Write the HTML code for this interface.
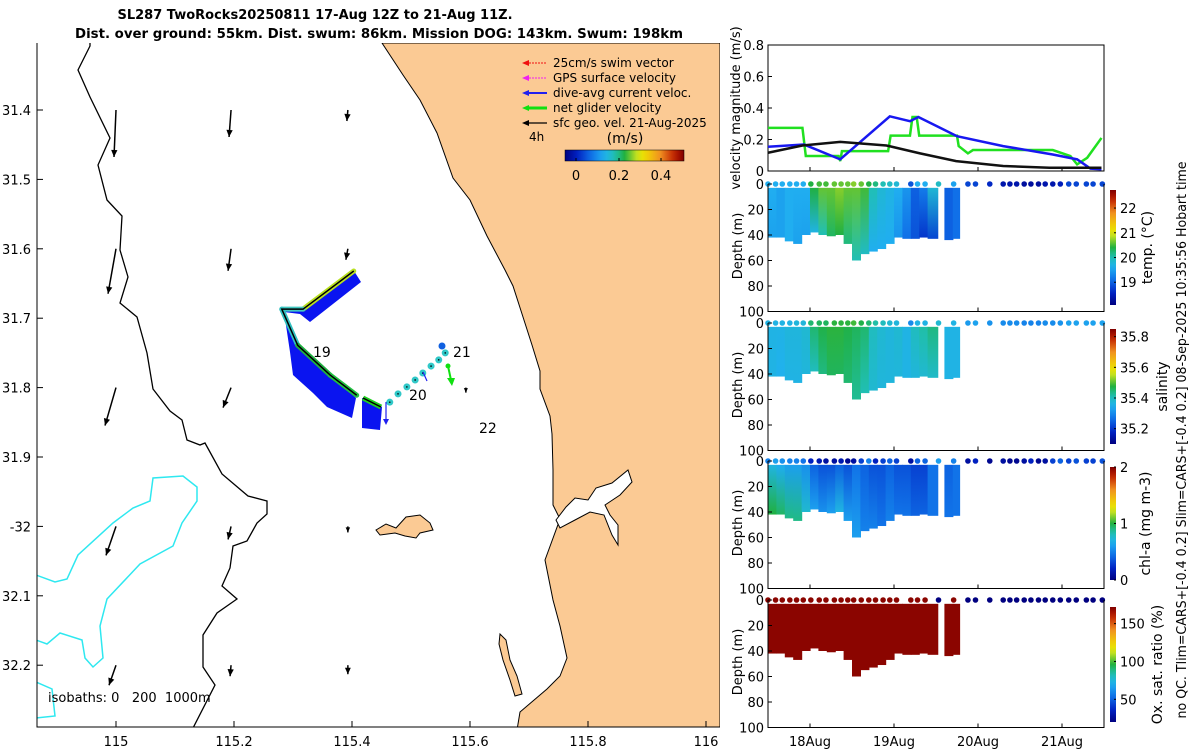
<!DOCTYPE html>
<html><head><meta charset="utf-8"><style>
html,body{margin:0;padding:0;background:#fff}
svg{display:block;font-family:"DejaVu Sans","Liberation Sans",sans-serif}
</style></head><body>
<svg id="fig" width="1200" height="750" viewBox="0 0 1200 750">
<rect width="1200" height="750" fill="#fff"/>
<text x="315" y="19" text-anchor="middle" font-weight="bold" font-size="13">SL287 TwoRocks20250811 17-Aug 12Z to 21-Aug 11Z.</text>
<text x="379" y="38" text-anchor="middle" font-weight="bold" font-size="13" textLength="608" lengthAdjust="spacingAndGlyphs">Dist. over ground: 55km. Dist. swum: 86km. Mission DOG: 143km. Swum: 198km</text>
<g id="map"></g>
<g id="vel"></g>
<g id="sec"></g>
<text transform="translate(1186,440) rotate(-90)" text-anchor="middle" font-size="13" textLength="557" lengthAdjust="spacingAndGlyphs">no QC. Tlim=CARS+[-0.4 0.2] Slim=CARS+[-0.4 0.2] 08-Sep-2025 10:35:56 Hobart time</text>
</svg>
<script>
// ---------- data ----------
const lonTicks=[115,115.2,115.4,115.6,115.8,116];
const lonTickLabels=["115","115.2","115.4","115.6","115.8","116"];
const latTicks=[31.4,31.5,31.6,31.7,31.8,31.9,32.0,32.1,32.2];
const latTickLabels=["31.4","31.5","31.6","31.7","31.8","31.9","-32","32.1","32.2"];
const trackLon=[115.403,115.317,115.281,115.308,115.363,115.408];
const trackLat=[31.632,31.687,31.687,31.739,31.782,31.811];
const dotLon=[115.464,115.478,115.493,115.507,115.520,115.534,115.547,115.558];
const dotLat=[31.821,31.809,31.799,31.789,31.779,31.769,31.760,31.750];
const geoLon=[115.0,115.0,115.0,115.0,115.0,115.195,115.195,115.195,115.195,115.195,115.393,115.393,115.393,115.393,115.593];
const geoLat=[31.4,31.6,31.8,32.0,32.2,31.4,31.6,31.8,32.0,32.2,31.4,31.6,32.0,32.2,31.8];
const geoU=[-0.02,-0.08,-0.11,-0.10,-0.07,-0.02,-0.03,-0.08,-0.03,-0.01,-0.01,-0.02,0,0,0];
const geoV=[-0.47,-0.45,-0.38,-0.29,-0.20,-0.27,-0.22,-0.20,-0.13,-0.11,-0.11,-0.11,-0.06,-0.09,-0.05];
const dayTicks=[18,19,20,21];
const dayLabels=["18Aug","19Aug","20Aug","21Aug"];
const velTicks=[0,0.2,0.4,0.6,0.8];
const velTickLabels=["0","0.2","0.4","0.6","0.8"];
const greenT=[17.5,17.91,17.95,18.34,18.36,18.38,18.93,18.96,19.19,19.22,19.27,19.30,19.75,19.77,19.88,19.94,20.89,21.10,21.18,21.30,21.47];
const greenV=[0.274,0.274,0.095,0.095,0.063,0.126,0.126,0.225,0.225,0.343,0.343,0.225,0.225,0.158,0.112,0.133,0.133,0.095,0.042,0.084,0.21];
const blueT=[17.5,17.93,18.36,18.95,19.19,19.29,19.75,20.30,20.89,21.18,21.34,21.47];
const blueV=[0.154,0.168,0.074,0.347,0.316,0.343,0.221,0.158,0.105,0.074,0.015,0.011];
const blackT=[17.5,17.91,18.36,18.91,19.31,19.74,20.30,20.85,21.47];
const blackV=[0.116,0.162,0.185,0.162,0.112,0.063,0.032,0.021,0.021];
const depthTicks=[0,20,40,60,80,100];
const profStart=[17.5,17.6,17.7,17.8,17.9,18.0,18.1,18.2,18.3,18.4,18.5,18.6,18.7,18.8,18.9,19.0,19.1,19.2,19.3,19.4,19.6,19.7];
const profEnd=[17.6,17.7,17.8,17.9,18.0,18.1,18.2,18.3,18.4,18.5,18.6,18.7,18.8,18.9,19.0,19.1,19.2,19.3,19.4,19.52,19.7,19.78];
const profDepth=[42,42,45,47,40,38,40,41,40,47,60,55,53,51,47,42,43,43,42,43,44,43];
const tempSurf=[19.6,19.5,19.6,19.6,19.6,20.4,20.6,20.6,20.7,20.6,20.6,20.5,20.0,19.8,19.7,19.6,19.4,19.0,19.2,19.8,19.0,19.1];
const tempDeep=[19.5,19.5,19.6,19.5,19.5,19.7,20.0,20.3,20.4,20.2,20.0,19.9,19.6,19.6,19.6,19.4,19.1,18.9,18.7,18.8,19.0,19.1];
const salSurf=[35.36,35.36,35.37,35.37,35.38,35.45,35.47,35.48,35.48,35.47,35.46,35.45,35.40,35.38,35.37,35.38,35.36,35.40,35.42,35.44,35.36,35.36];
const salDeep=[35.36,35.35,35.36,35.36,35.37,35.40,35.44,35.46,35.46,35.45,35.43,35.41,35.38,35.37,35.37,35.37,35.36,35.37,35.38,35.39,35.36,35.36];
const chlSurf=[0.7,0.65,0.6,0.6,0.55,0.4,0.35,0.35,0.4,0.35,0.45,0.4,0.35,0.35,0.4,0.35,0.35,0.3,0.3,0.45,0.4,0.45];
const chlDeep=[1.0,0.95,0.9,0.9,0.75,0.6,0.55,0.6,0.7,0.6,0.6,0.5,0.5,0.45,0.5,0.45,0.45,0.4,0.4,0.45,0.45,0.45];
const oxSurf=[170,170,170,170,170,170,170,170,170,170,170,170,170,170,170,170,170,170,170,170,170,170];
const oxDeep=[170,170,170,170,170,170,170,170,170,170,170,170,170,170,170,170,170,170,170,170,170,170];
const sfcT=[17.5,17.59,17.67,17.76,17.84,17.92,18.01,18.11,18.19,18.29,18.37,18.45,18.52,18.61,18.70,18.78,18.87,18.95,19.03,19.20,19.28,19.37,19.53,19.71,19.88,19.97,20.14,20.30,20.38,20.46,20.55,20.63,20.72,20.80,20.89,20.98,21.08,21.17,21.29,21.37,21.48];
const sfcTemp=[19.6,19.6,19.6,19.6,19.6,19.6,20.4,20.5,20.5,20.6,20.6,20.6,20.7,20.6,20.4,20.2,20.0,19.9,19.8,18.9,19.6,19.6,19.9,19.5,18.8,18.8,18.6,18.4,18.4,18.4,18.3,18.3,18.3,18.4,18.4,18.5,18.8,18.8,18.8,18.8,18.8];
const sfcSal=[35.36,35.36,35.36,35.36,35.37,35.37,35.45,35.46,35.46,35.48,35.48,35.48,35.49,35.47,35.45,35.42,35.40,35.38,35.37,35.30,35.36,35.36,35.38,35.36,35.32,35.33,35.31,35.30,35.30,35.30,35.29,35.29,35.29,35.30,35.30,35.31,35.33,35.33,35.33,35.33,35.33];
const sfcChl=[0.5,0.6,0.55,0.5,0.5,0.45,0.2,0.15,0.1,0.1,0.15,0.05,0.1,0.3,0.5,0.2,0.3,0.4,0.3,0.1,0.4,0.4,0.6,0.5,0.1,0.2,0.05,0.1,0.05,0.05,0.1,0.2,0.05,0.1,0.3,0.4,0.3,0.35,0.3,0.3,0.35];
const sfcOx=[170,170,170,170,170,170,170,170,170,170,170,170,170,170,170,170,170,170,170,170,170,170,20,170,20,20,20,20,20,20,20,20,20,20,20,20,20,20,20,20,20];
// ---------- helpers ----------
const NS="http://www.w3.org/2000/svg";
function el(tag,attrs,parent){const e=document.createElementNS(NS,tag);for(const k in attrs)e.setAttribute(k,attrs[k]);parent.appendChild(e);return e;}
const stops=[[0,[0,0,128]],[0.1,[0,32,192]],[0.22,[16,112,232]],[0.33,[32,176,240]],[0.42,[32,192,176]],[0.5,[32,176,64]],[0.6,[192,224,32]],[0.66,[240,224,0]],[0.8,[240,144,32]],[0.92,[192,32,0]],[1,[128,0,0]]];
function cmap(f){f=Math.max(0,Math.min(1,f));for(let i=1;i<stops.length;i++){if(f<=stops[i][0]){const a=stops[i-1],b=stops[i],t=(f-a[0])/(b[0]-a[0]);const c=a[1].map((v,j)=>Math.round(v+(b[1][j]-v)*t));return `rgb(${c[0]},${c[1]},${c[2]})`;}}return 'rgb(128,0,0)';}
// ---------- map ----------
const map=document.getElementById('map');
const MX=lon=>116+(lon-115)*590, MY=lat=>110+(lat-31.4)*694;
el('clipPath',{id:'mapclip'},map);
el('rect',{x:37,y:43,width:683,height:684},document.getElementById('mapclip'));
const mg=el('g',{'clip-path':'url(#mapclip)'},map);
const land=el('path',{d:'M382,43 L403,75 L420,100 L437,133 L453,178 L470,200 L487,236 L505,270 L513,286 L523,317 L532,345 L540,371 L540,389 L550,416 L552,434 L553,470 L553,505 L560,519 L545,560 L553,600 L560,626 L567,658 L560,676 L547,689 L520,712 L517,730 L720,730 L720,43 Z',fill:'#fbca94',stroke:'#000','stroke-width':1},mg);


const river=el('path',{d:'M556,520 L566,507 L575,498 L588,500 L596,488 L612,483 L628,470 L632,482 L620,495 L605,505 L610,515 L618,525 L618,545 L612,535 L604,515 L590,512 L575,520 L560,528 Z',fill:'#fff',stroke:'#000','stroke-width':1},mg);


const rott=el('path',{d:'M376,530 L386,524 L396,528 L406,517 L420,515 L430,523 L433,530 L420,533 L416,538 L405,536 L395,533 L380,535 Z',fill:'#fbca94',stroke:'#000','stroke-width':1},mg);


const garden=el('path',{d:'M500,634 L506,640 L510,660 L517,676 L522,694 L515,696 L510,680 L503,660 L499,644 Z',fill:'#fbca94',stroke:'#000','stroke-width':1},mg);


const iso200=el('path',{d:'M90,43 L90,46 L78,70 L90,97 L110,138 L98,165 L107,200 L122,216 L120,250 L128,277 L120,303 L137,317 L147,353 L153,389 L170,411 L182,420 L187,440 L200,445 L205,443 L222,474 L248,496 L267,501 L267,514 L257,523 L247,541 L233,546 L230,568 L222,586 L237,599 L217,613 L203,635 L203,667 L215,685 L192,730',fill:'none',stroke:'#000','stroke-width':1.3},mg);


const iso1000=el('path',{d:'M36,640 L47,644 L60,633 L82,640 L85,658 L93,667 L103,658 L100,626 L107,599 L140,564 L173,546 L182,523 L197,501 L197,487 L183,476 L153,478 L150,501 L133,508 L113,523 L78,555 L67,579 L55,582 L36,575 M36,682 L52,689 L55,716 L36,718',fill:'none',stroke:'#2ee8f0','stroke-width':1.5},mg);


for(let i=0;i<geoLon.length;i++){
  const x0=MX(geoLon[i]),y0=MY(geoLat[i]),x1=x0+geoU[i]*100,y1=y0-geoV[i]*100;
  const g=el('g',{},mg);
  
  
  el('line',{x1:x0,y1:y0,x2:x1,y2:y1,stroke:'#000','stroke-width':1.5},g);
  const L=Math.hypot(x1-x0,y1-y0)||1,ux=(x1-x0)/L,uy=(y1-y0)/L,h=Math.min(7,L*0.5+2);
  el('path',{d:`M${x1},${y1} L${x1-ux*h-uy*h*0.45},${y1-uy*h+ux*h*0.45} L${x1-ux*h+uy*h*0.45},${y1-uy*h-ux*h*0.45} Z`,fill:'#000'},g);
}
const fill1=el('path',{d:'M354,271 L361,282 L310,322 L300,314 L284,312 L290,352 L293,375 L313,393 L327,407 L352,418 L356,398 L330,375 L298,345 L282,309 L303,309 Z',fill:'#0a14f0'},mg);


const fill2=el('path',{d:'M362,398 L382,407 L380,430 L362,428 Z',fill:'#0a14f0'},mg);


const tcols=['#b8e020','#40c8c0','#30c0c0','#20b040','#20c040'];
for(let i=0;i<trackLon.length-1;i++){
  const s=el('line',{x1:MX(trackLon[i]),y1:MY(trackLat[i]),x2:MX(trackLon[i+1]),y2:MY(trackLat[i+1]),stroke:tcols[i],'stroke-width':5,'stroke-linecap':'round'},mg);
  
  
}
const tline=el('polyline',{points:trackLon.map((v,i)=>MX(v)+','+MY(trackLat[i])).join(' '),fill:'none',stroke:'#000','stroke-width':1.5},mg);


const seg2=el('line',{x1:363,y1:398,x2:381,y2:407,stroke:'#20d020','stroke-width':5},mg);


el('line',{x1:363,y1:398,x2:381,y2:407,stroke:'#000','stroke-width':1.5},mg);
for(let i=0;i<dotLon.length;i++){
  const c=el('circle',{cx:MX(dotLon[i]),cy:MY(dotLat[i]),r:3.5,fill:'#30c8c8'},mg);
  
  
  el('circle',{cx:MX(dotLon[i]),cy:MY(dotLat[i]),r:0.8,fill:'#000'},mg);
}
const lastDot=el('circle',{cx:442,cy:346,r:3.5,fill:'#1060e0'},mg);


const ga=el('g',{},mg);


el('line',{x1:448,y1:366,x2:451,y2:380,stroke:'#10e010','stroke-width':2},ga);
el('path',{d:'M447,378 L455,378 L452,386 Z',fill:'#10e010'},ga);
el('circle',{cx:448,cy:366,r:2.5,fill:'#10e010'},ga);
el('line',{x1:386,y1:402,x2:386,y2:421,stroke:'#2020f0','stroke-width':1.2},mg);
el('path',{d:'M383,419 L389,419 L386,425 Z',fill:'#2020f0'},mg);
el('line',{x1:423,y1:372,x2:427,y2:381,stroke:'#2020f0','stroke-width':1.2},mg);
[['19',313,357],['20',409,400],['21',453,357],['22',479,433]].forEach(d=>{const t=el('text',{x:d[1],y:d[2],'font-size':14},mg);t.textContent=d[0];});
const legItems=[['25cm/s swim vector','#f01010',1],['GPS surface velocity','#f020f0',1],['dive-avg current veloc.','#2020f0',2],['net glider velocity','#10e010',3],['sfc geo. vel. 21-Aug-2025','#000',1.2]];
legItems.forEach((it,i)=>{
  const y=63+i*15;
  const g=el('g',{},map);
  
  
  el('line',{x1:526,y1:y,x2:547,y2:y,stroke:it[1],'stroke-width':it[2],'stroke-dasharray':i<2?'2,1':''},g);
  el('path',{d:`M522,${y} L529,${y-3} L529,${y+3} Z`,fill:it[1]},g);
  const t=el('text',{x:553,y:y+4,'font-size':12},g);t.textContent=it[0];
});
const t4=el('text',{x:529,y:141,'font-size':12},map);t4.textContent='4h';


const tms=el('text',{x:625,y:143,'text-anchor':'middle','font-size':14},map);tms.textContent='(m/s)';


el('linearGradient',{id:'cbh',x1:0,x2:1,y1:0,y2:0},map);
for(let i=0;i<=20;i++)el('stop',{offset:i/20,'stop-color':cmap(i/20)},document.getElementById('cbh'));
const cbh=el('rect',{x:565,y:150,width:119,height:11,fill:'url(#cbh)',stroke:'#000','stroke-width':0.5},map);


[['0',576],['0.2',619],['0.4',661]].forEach(d=>{el('line',{x1:d[1],y1:158,x2:d[1],y2:161,stroke:'#000'},map);const t=el('text',{x:d[1],y:180,'text-anchor':'middle','font-size':13},map);t.textContent=d[0];});
const isoT=el('text',{x:48,y:702,'font-size':13,'xml:space':'preserve'},map);isoT.textContent='isobaths: 0   200  1000m';
isoT.setAttribute('style','white-space:pre');


el('path',{d:'M37,43 L37,727 L720,727',fill:'none',stroke:'#000','stroke-width':1},map);
lonTicks.forEach((v,i)=>{const x=MX(v);el('line',{x1:x,y1:727,x2:x,y2:721,stroke:'#000'},map);const t=el('text',{x:x,y:746,'text-anchor':'middle','font-size':13},map);t.textContent=lonTickLabels[i];});
latTicks.forEach((v,i)=>{const y=MY(v);el('line',{x1:37,y1:y,x2:43,y2:y,stroke:'#000'},map);const t=el('text',{x:31,y:y+5,'text-anchor':'end','font-size':13},map);t.textContent=latTickLabels[i];});
// ---------- velocity panel ----------
const vel=document.getElementById('vel');
const TX=t=>768+(t-17.5)*84;
const VY=v=>171-v*157.5;
const vbox=el('rect',{x:768,y:45,width:336,height:126,fill:'none',stroke:'#000','stroke-width':1},vel);


velTicks.forEach((v,i)=>{const y=VY(v);el('line',{x1:768,y1:y,x2:772,y2:y,stroke:'#000'},vel);const t=el('text',{x:764,y:y+5,'text-anchor':'end','font-size':13},vel);t.textContent=velTickLabels[i];});
dayTicks.forEach(d=>{el('line',{x1:TX(d),y1:171,x2:TX(d),y2:167,stroke:'#000'},vel);});
[[greenT,greenV,'#20e020',2.5,'net-glider-speed-line'],[blueT,blueV,'#1818f0',2.5,'dive-avg-current-line'],[blackT,blackV,'#111',2.5,'geo-velocity-line']].forEach(s=>{
  const p=el('polyline',{points:s[0].map((t,i)=>TX(t)+','+VY(s[1][i])).join(' '),fill:'none',stroke:s[2],'stroke-width':s[3]},vel);
  
  
});
const vyl=el('text',{transform:'translate(740,108) rotate(-90)','text-anchor':'middle','font-size':13},vel);vyl.textContent='velocity magnitude (m/s)';


// ---------- section panels ----------
const sec=document.getElementById('sec');
const panels=[
 {top:184,name:'temperature',surf:tempSurf,deep:tempDeep,sfc:sfcTemp,lo:18.08,hi:22.73,cb:[190,305],ticks:[19,20,21,22],label:'temp. (°C)',lx:1152},
 {top:323,name:'salinity',surf:salSurf,deep:salDeep,sfc:sfcSal,lo:35.1,hi:35.85,cb:[329,444],ticks:[35.2,35.4,35.6,35.8],label:'salinity',lx:1167},
 {top:461,name:'chlorophyll',surf:chlSurf,deep:chlDeep,sfc:sfcChl,lo:0,hi:2,cb:[467,580],ticks:[0,1,2],label:'chl-a (mg m-3)',lx:1150},
 {top:600,name:'oxygen',surf:oxSurf,deep:oxDeep,sfc:sfcOx,lo:20,hi:172,cb:[607,722],ticks:[50,100,150],label:'Ox. sat. ratio (%)',lx:1162}];
panels.forEach((P,pi)=>{
  const g=el('g',{},sec);
  
  
  const DY=d=>P.top+d*1.275;
  const f=v=>(v-P.lo)/(P.hi-P.lo);
  for(let i=0;i<profStart.length;i++){
    const gid='gr'+pi+'_'+i;
    const lg=el('linearGradient',{id:gid,x1:0,x2:0,y1:0,y2:1},g);
    el('stop',{offset:0,'stop-color':cmap(f(P.surf[i]))},lg);
    el('stop',{offset:1,'stop-color':cmap(f(P.deep[i]))},lg);
    const r=el('rect',{x:TX(profStart[i]),y:DY(3),width:TX(profEnd[i])-TX(profStart[i])+0.6,height:DY(profDepth[i])-DY(3),fill:'url(#'+gid+')'},g);
    
    
  }
  sfcT.forEach((t,i)=>{
    const c=el('circle',{cx:TX(t),cy:P.top,r:2.8,fill:cmap(f(P.sfc[i]))},g);
    
    
  });
  el('path',{d:`M768,${P.top} L768,${P.top+127.5} L1104,${P.top+127.5} L1104,${P.top}`,fill:'none',stroke:'#000','stroke-width':1},g);
  depthTicks.forEach(d=>{el('line',{x1:768,y1:DY(d),x2:772,y2:DY(d),stroke:'#000'},g);const t=el('text',{x:764,y:DY(d)+5,'text-anchor':'end','font-size':13},g);t.textContent=String(d);});
  dayTicks.forEach(d=>{el('line',{x1:TX(d),y1:P.top+127.5,x2:TX(d),y2:P.top+123.5,stroke:'#000'},g);});
  const yl=el('text',{transform:`translate(742,${P.top+62}) rotate(-90)`,'text-anchor':'middle','font-size':13},g);yl.textContent='Depth (m)';
  const cid='cbv'+pi;
  const cg=el('linearGradient',{id:cid,x1:0,x2:0,y1:1,y2:0},g);
  for(let k=0;k<=20;k++)el('stop',{offset:k/20,'stop-color':cmap(k/20)},cg);
  const cb=el('rect',{x:1110,y:P.cb[0],width:6,height:P.cb[1]-P.cb[0],fill:'url(#'+cid+')'},g);
  
  
  P.ticks.forEach(v=>{const y=P.cb[1]-f(v)*(P.cb[1]-P.cb[0]);el('line',{x1:1114,y1:y,x2:1116,y2:y,stroke:'#000'},g);const t=el('text',{x:1120,y:y+5,'font-size':13},g);t.textContent=String(v);});
  const cl=el('text',{transform:`translate(${P.lx},${(P.cb[0]+P.cb[1])/2}) rotate(-90)`,'text-anchor':'middle','font-size':14},g);cl.textContent=P.label;
  
  
});
dayTicks.forEach((d,i)=>{const t=el('text',{x:TX(d),y:746,'text-anchor':'middle','font-size':13},sec);t.textContent=dayLabels[i];});
</script>
</body></html>
